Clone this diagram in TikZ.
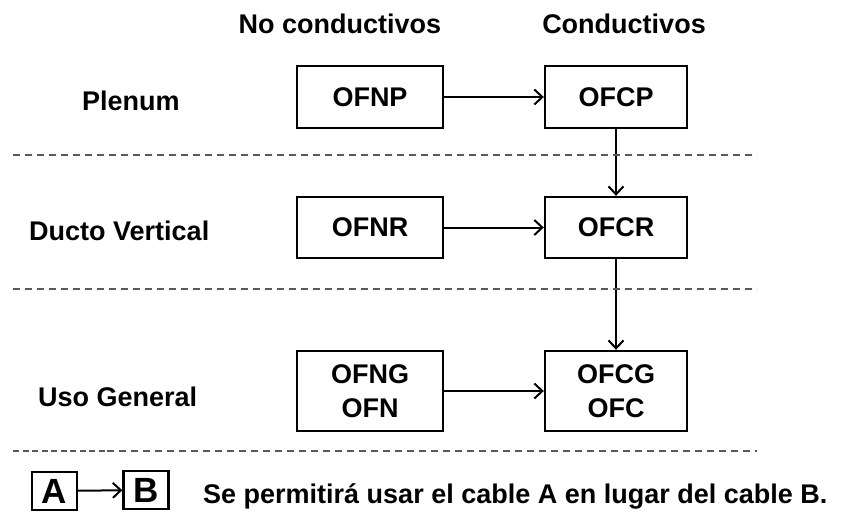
\documentclass[tikz,border=0pt]{standalone}
\usepackage{fontspec}
\setmainfont{Liberation Sans}
\usetikzlibrary{arrows.meta}
\begin{document}
\begin{tikzpicture}[x=1pt,y=-1pt,
  lbl/.style={font=\fontsize{27}{34}\selectfont\bfseries, inner sep=0pt},
  cbox/.style={draw, line width=2.4pt, inner sep=0pt, align=center,
    font=\fontsize{27}{34}\selectfont\bfseries},
  legbox/.style={draw, line width=2.4pt, inner sep=0pt, minimum width=45pt,
    minimum height=38pt, font=\fontsize{35}{40}\selectfont\bfseries},
  arr/.style={line width=2pt, -{Straight Barb[length=8pt,width=15pt,line width=2pt]}},
  sepline/.style={draw=black!65, line width=2pt, dash pattern=on 7pt off 5pt}]
\useasboundingbox (0,0) rectangle (865,512);

% headers
\node[lbl, anchor=base] (hN) at (340,33) {No conductivos};
\node[lbl, anchor=base] (hC) at (624,33) {Conductivos};

% row labels
\node[lbl, anchor=base west] (lP) at (82,110) {Plenum};
\node[lbl, anchor=base west] (lD) at (29,240) {Ducto Vertical};
\node[lbl, anchor=base west] (lU) at (38,406) {Uso General};

% boxes
\node[cbox, minimum width=146pt, minimum height=62pt] (OFNP) at (370,97) {OFNP};
\node[cbox, minimum width=142pt, minimum height=62pt] (OFCP) at (616,97) {OFCP};
\node[cbox, minimum width=146pt, minimum height=61pt] (OFNR) at (370,227.5) {OFNR};
\node[cbox, minimum width=142pt, minimum height=61pt] (OFCR) at (616,227.5) {OFCR};
\node[cbox, minimum width=146pt, minimum height=80pt] (OFNG) at (370,391) {OFNG\\OFN};
\node[cbox, minimum width=142pt, minimum height=80pt] (OFCG) at (616,391) {OFCG\\OFC};

% arrows
\draw[arr] (OFNP) -- (OFCP);
\draw[arr] (OFNR) -- (OFCR);
\draw[arr] (OFNG) -- (OFCG);
\draw[arr] (OFCP) -- (OFCR);
\draw[arr] (OFCR) -- (OFCG);

% separators
\coordinate (s1a) at (13,155); \coordinate (s1b) at (757,155);
\coordinate (s2a) at (13,289); \coordinate (s2b) at (757,289);
\coordinate (s3a) at (13,451); \coordinate (s3m) at (107,451); \coordinate (s3b) at (757,451);
\draw[sepline] (s1a) -- (s1b);
\draw[sepline] (s2a) -- (s2b);
\draw[sepline, dash pattern=on 6pt off 3.5pt] (s3a) -- (s3m);
\draw[sepline] (s3m) -- (s3b);

% legend
\node[legbox] (A) at (54.5,491) {A};
\node[legbox] (B) at (146,490) {B};
\draw[arr] (A) -- (B);
\node[lbl, anchor=base west] (leg) at (203,503) {Se permitirá usar el cable A en lugar del cable B.};
\end{tikzpicture}
\end{document}
